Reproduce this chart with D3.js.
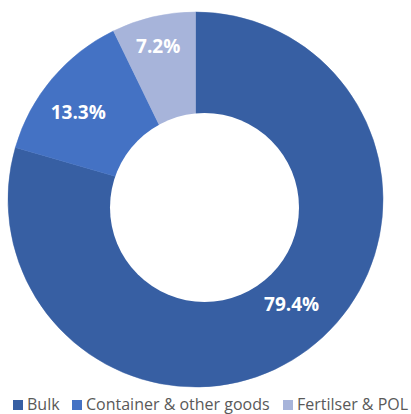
<!DOCTYPE html>
<html>
<head>
<meta charset="utf-8">
<script src="https://cdn.jsdelivr.net/npm/d3@7/dist/d3.min.js"></script>
<style>
  html, body { margin: 0; padding: 0; background: #fff; }
  svg { display: block; }
</style>
</head>
<body>
<svg id="chart" width="411" height="414"></svg>
<script>
// Cargo mix by category (share of total, %)
const categories = ["Bulk", "Container & other goods", "Fertilser & POL"];
const shares = [79.4, 13.3, 7.2];
const labels = ["79.4%", "13.3%", "7.2%"];
const colors = ["#375FA3", "#4472C4", "#A7B4DA"];

const svg = d3.select("#chart");

// Ring geometry
const cx = 195.5, cy = 199.5, outerR = 187.5;
const hole = { dx: 9, dy: 8, r: 94.5 };

const data = categories.map((c, i) => ({ name: c, value: shares[i], label: labels[i], color: colors[i] }));

const pie = d3.pie().value(d => d.value).sort(null);
const arcs = pie(data);
const arc = d3.arc().innerRadius(0).outerRadius(outerR);

const g = svg.append("g").attr("transform", `translate(${cx},${cy})`);

g.selectAll("path.slice")
  .data(arcs)
  .join("path")
  .attr("class", "slice")
  .attr("d", arc)
  .attr("fill", d => d.data.color)
  .attr("stroke", d => d.data.color)
  .attr("stroke-width", 0.5);

// Centre hole
g.append("circle")
  .attr("cx", hole.dx)
  .attr("cy", hole.dy)
  .attr("r", hole.r)
  .attr("fill", "#fff");

// Percentage labels placed within the ring
const labelArc = d3.arc().innerRadius(outerR * 0.72).outerRadius(outerR * 0.72);
const labelNudge = [[15, -3], [-14, -1], [-7, -22]];
g.selectAll("text.pct")
  .data(arcs)
  .join("text")
  .attr("class", "pct")
  .attr("x", (d, i) => labelArc.centroid(d)[0] + labelNudge[i][0])
  .attr("y", (d, i) => labelArc.centroid(d)[1] + labelNudge[i][1])
  .attr("text-anchor", "middle")
  .attr("dominant-baseline", "central")
  .attr("fill", "#fff")
  .attr("font-family", "'Open Sans', 'Liberation Sans', sans-serif")
  .attr("font-weight", "bold")
  .attr("font-size", 19)
  .text(d => d.data.label);

// Legend along the bottom edge
const legendX = [13, 72, 283];
const legend = svg.append("g")
  .selectAll("g")
  .data(data)
  .join("g")
  .attr("transform", (d, i) => `translate(${legendX[i]},0)`);

legend.append("rect")
  .attr("x", 0)
  .attr("y", 400)
  .attr("width", 10)
  .attr("height", 10)
  .attr("fill", d => d.color);

legend.append("text")
  .attr("x", 14)
  .attr("y", 409.5)
  .attr("fill", "#595959")
  .attr("font-family", "'Open Sans', 'Liberation Sans', sans-serif")
  .attr("font-size", 16)
  .text(d => d.name);
</script>
</body>
</html>
